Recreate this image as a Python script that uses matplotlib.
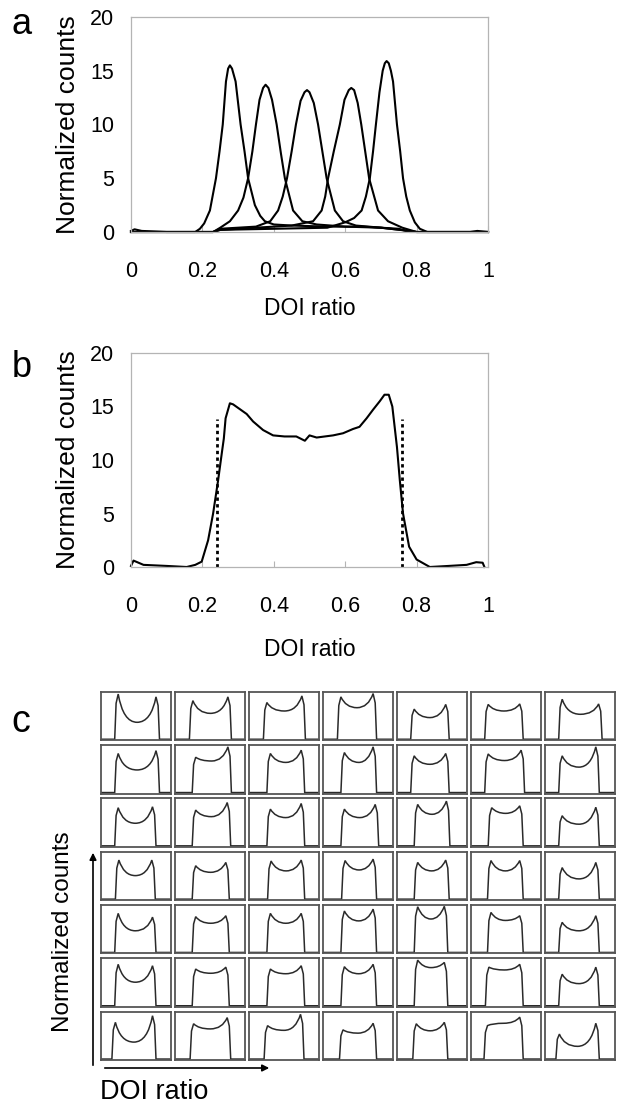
import matplotlib
matplotlib.use('Agg')
import matplotlib.pyplot as plt
from matplotlib.path import Path
from matplotlib.patches import PathPatch, FancyArrowPatch

plt.rcParams['font.family'] = ['Liberation Sans', 'DejaVu Sans']

# ---- panel a: five position spectra (DOI ratio vs normalized counts)
a1_x = [0, 0.01, 0.03, 0.1, 0.18, 0.193, 0.205, 0.221, 0.238, 0.248, 0.257, 0.266, 0.272, 0.277, 0.283,
        0.293, 0.307, 0.318, 0.328, 0.347, 0.362, 0.375, 0.40, 0.45, 0.55, 0.65, 0.75, 0.78, 1.0]
a1_y = [0.1, 0.25, 0.1, 0, 0, 0.3, 0.8, 2.0, 5.0, 7.5, 10.0, 14.0, 15.2, 15.5, 15.2,
        14.0, 10.0, 7.5, 5.0, 2.5, 1.5, 1.0, 0.7, 0.6, 0.5, 0.5, 0.3, 0, 0]
a2_x = [0, 0.23, 0.25, 0.277, 0.30, 0.315, 0.328, 0.34, 0.35, 0.36, 0.37, 0.377, 0.385, 0.395,
        0.408, 0.42, 0.431, 0.454, 0.48, 0.52, 0.6, 0.7, 0.78, 0.8, 1.0]
a2_y = [0, 0, 0.4, 1.0, 2.0, 3.2, 5.0, 7.5, 10.0, 12.3, 13.4, 13.7, 13.4, 12.3,
        10.0, 7.3, 5.0, 2.0, 1.0, 0.7, 0.5, 0.4, 0.1, 0, 0]
a3_x = [0, 0.23, 0.25, 0.35, 0.39, 0.412, 0.425, 0.437, 0.45, 0.462, 0.475, 0.486, 0.493, 0.50,
        0.512, 0.524, 0.536, 0.548, 0.571, 0.594, 0.63, 0.7, 0.78, 0.8, 1.0]
a3_y = [0, 0, 0.3, 0.5, 1.0, 2.0, 3.3, 5.0, 7.5, 10.0, 12.2, 13.0, 13.2, 13.0,
        12.0, 10.0, 7.5, 5.0, 2.0, 1.0, 0.6, 0.4, 0.1, 0, 0]
a4_x = [0, 0.23, 0.25, 0.45, 0.51, 0.534, 0.544, 0.552, 0.568, 0.585, 0.598, 0.61, 0.617, 0.625,
        0.635, 0.645, 0.656, 0.667, 0.692, 0.72, 0.76, 0.8, 1.0]
a4_y = [0, 0, 0.2, 0.6, 1.0, 2.0, 3.3, 5.0, 7.5, 10.0, 12.3, 13.2, 13.4, 13.2,
        12.0, 10.0, 7.5, 5.0, 2.0, 1.0, 0.4, 0, 0]
a5_x = [0, 0.23, 0.25, 0.55, 0.6, 0.625, 0.646, 0.658, 0.669, 0.678, 0.686, 0.696, 0.705, 0.711, 0.716,
        0.722, 0.728, 0.734, 0.745, 0.754, 0.762, 0.771, 0.781, 0.795, 0.809, 0.83, 0.95, 0.97, 0.985, 1.0]
a5_y = [0, 0, 0.2, 0.4, 0.9, 1.3, 2.0, 3.3, 5.0, 7.5, 10.0, 13.0, 15.0, 15.7, 15.9,
        15.7, 15.0, 14.0, 10.0, 7.5, 5.0, 3.3, 2.0, 0.9, 0.3, 0, 0, 0.1, 0.05, 0]

# ---- panel b: summed flood spectrum
b_x = [0, 0.007, 0.035, 0.1, 0.156, 0.18, 0.198, 0.216, 0.23, 0.244, 0.255, 0.26, 0.265, 0.277, 0.286,
       0.324, 0.342, 0.37, 0.398, 0.43, 0.463, 0.487, 0.50, 0.52, 0.566, 0.594, 0.622, 0.64, 0.66,
       0.678, 0.697, 0.71, 0.722, 0.732, 0.745, 0.753, 0.762, 0.779, 0.80, 0.837, 0.89, 0.94, 0.967,
       0.985, 0.99]
b_y = [0.1, 0.6, 0.2, 0.1, 0.0, 0.2, 0.5, 2.5, 5.0, 8.1, 10.8, 12.0, 13.9, 15.3, 15.2,
       14.3, 13.6, 12.8, 12.3, 12.2, 12.2, 11.8, 12.3, 12.1, 12.3, 12.5, 12.9, 13.1, 13.9,
       14.7, 15.5, 16.1, 16.1, 15.0, 11.2, 8.1, 5.0, 1.9, 0.7, 0.0, 0.1, 0.2, 0.45,
       0.4, 0.0]
b_cut = [0.242, 0.759]
b_cut_top = 13.8

# ---- panel c: 7x7 crystal spectra (fractions of each small box)
c_left = [[0.20, 0.21, 0.21, 0.21, 0.20, 0.20, 0.20],
          [0.20, 0.25, 0.26, 0.26, 0.20, 0.20, 0.20],
          [0.20, 0.25, 0.26, 0.26, 0.25, 0.25, 0.20],
          [0.21, 0.25, 0.27, 0.27, 0.25, 0.24, 0.20],
          [0.20, 0.25, 0.26, 0.26, 0.25, 0.24, 0.20],
          [0.20, 0.25, 0.26, 0.26, 0.25, 0.21, 0.20],
          [0.16, 0.22, 0.22, 0.24, 0.23, 0.19, 0.16]]
c_right = [[0.84, 0.81, 0.81, 0.77, 0.75, 0.75, 0.82],
           [0.84, 0.81, 0.80, 0.77, 0.75, 0.77, 0.78],
           [0.79, 0.80, 0.80, 0.80, 0.76, 0.75, 0.78],
           [0.78, 0.78, 0.80, 0.77, 0.75, 0.75, 0.78],
           [0.79, 0.78, 0.80, 0.77, 0.73, 0.75, 0.78],
           [0.79, 0.78, 0.80, 0.77, 0.73, 0.75, 0.78],
           [0.79, 0.80, 0.79, 0.77, 0.73, 0.75, 0.78]]
c_lpeak = [[0.98, 0.84, 0.80, 0.92, 0.66, 0.76, 0.87],
           [0.85, 0.77, 0.85, 0.87, 0.80, 0.84, 0.80],
           [0.83, 0.78, 0.80, 0.80, 0.90, 0.83, 0.66],
           [0.85, 0.73, 0.83, 0.84, 0.80, 0.84, 0.69],
           [0.85, 0.78, 0.85, 0.90, 0.99, 0.87, 0.66],
           [0.90, 0.80, 0.80, 0.85, 0.99, 0.84, 0.69],
           [0.80, 0.77, 0.73, 0.64, 0.77, 0.73, 0.55]]
c_valley = [[0.38, 0.57, 0.62, 0.69, 0.48, 0.62, 0.55],
            [0.50, 0.69, 0.66, 0.66, 0.62, 0.70, 0.56],
            [0.50, 0.64, 0.62, 0.62, 0.69, 0.71, 0.48],
            [0.52, 0.59, 0.62, 0.64, 0.62, 0.62, 0.45],
            [0.48, 0.64, 0.64, 0.69, 0.73, 0.70, 0.48],
            [0.52, 0.71, 0.70, 0.70, 0.83, 0.78, 0.49],
            [0.38, 0.66, 0.63, 0.57, 0.62, 0.78, 0.29]]
c_rpeak = [[0.92, 0.92, 0.94, 0.99, 0.76, 0.77, 0.77],
           [0.91, 0.99, 0.92, 0.99, 0.85, 0.92, 0.99],
           [0.85, 0.94, 0.92, 0.90, 0.97, 0.87, 0.84],
           [0.85, 0.80, 0.85, 0.87, 0.85, 0.84, 0.80],
           [0.77, 0.80, 0.85, 0.94, 1.00, 0.80, 0.80],
           [0.87, 0.84, 0.87, 0.90, 0.94, 0.90, 0.84],
           [0.94, 0.90, 0.97, 0.78, 0.80, 0.91, 0.78]]

W, H = 624, 1110
fig = plt.figure(figsize=(W / 100, H / 100), dpi=100)


def box(l, t, w, h):
    # pixel box -> figure fraction
    return [l / W, 1 - (t + h) / H, w / W, h / H]


def style_main(ax):
    ax.set_xlim(0, 1)
    ax.set_ylim(0, 20)
    ax.set_xticks([0, 0.2, 0.4, 0.6, 0.8, 1])
    ax.set_xticklabels(['0', '0.2', '0.4', '0.6', '0.8', '1'])
    ax.set_yticks([0, 5, 10, 15, 20])
    for s in ax.spines.values():
        s.set_color('#b4b4b4')
        s.set_linewidth(0.9)
    ax.tick_params(axis='x', direction='in', length=4, color='#b4b4b4', pad=21, labelsize=15.5)
    ax.tick_params(axis='y', length=0, pad=12, labelsize=15.5)


# panel a
ax_a = fig.add_axes(box(131, 17, 357, 215))
for xs, ys in [(a1_x, a1_y), (a2_x, a2_y), (a3_x, a3_y), (a4_x, a4_y), (a5_x, a5_y)]:
    ax_a.plot(xs, ys, color='black', lw=1.5, clip_on=False, solid_joinstyle='round')
style_main(ax_a)
fig.text(68 / W, 1 - 125 / H, 'Normalized counts', rotation=90, ha='center', va='center', fontsize=19)
fig.text(310 / W, 1 - 308 / H, 'DOI ratio', ha='center', va='center', fontsize=16.5)
fig.text(22 / W, 1 - 25 / H, 'a', ha='center', va='center', fontsize=26)

# panel b
ax_b = fig.add_axes(box(131, 353, 357, 214))
ax_b.plot(b_x, b_y, color='black', lw=1.5, clip_on=False, solid_joinstyle='round')
ax_b.vlines(b_cut, 0, b_cut_top, colors='black', linestyles=(0, (1.2, 1.2)), lw=2.0)
style_main(ax_b)
fig.text(68 / W, 1 - 460 / H, 'Normalized counts', rotation=90, ha='center', va='center', fontsize=19)
fig.text(310 / W, 1 - 650 / H, 'DOI ratio', ha='center', va='center', fontsize=16.5)
fig.text(22 / W, 1 - 368 / H, 'b', ha='center', va='center', fontsize=26)

# panel c: grid of small spectra
base = 0.02
for r in range(7):
    for c in range(7):
        ax = fig.add_axes(box(100.7 + c * 74, 691.7 + r * 53.3, 70, 48.5))
        l, rr = c_left[r][c], c_right[r][c]
        lp, v, rp = c_lpeak[r][c], c_valley[r][c], c_rpeak[r][c]
        mid = (l + rr) / 2
        verts = [(0, base), (l, base), (l + 0.02, lp * 0.8), (l + 0.05, lp),
                 (l + 0.12, v), (mid, v), (rr - 0.12, v), (rr - 0.05, rp),
                 (rr - 0.02, rp * 0.8), (rr, base), (1, base)]
        codes = [Path.MOVETO, Path.LINETO, Path.LINETO, Path.LINETO,
                 Path.CURVE3, Path.CURVE3, Path.CURVE3, Path.CURVE3,
                 Path.LINETO, Path.LINETO, Path.LINETO]
        ax.add_patch(PathPatch(Path(verts, codes), fill=False, edgecolor='#2a2a2a', lw=1.1))
        ax.set_xlim(0, 1)
        ax.set_ylim(0, 1.03)
        ax.set_xticks([])
        ax.set_yticks([])
        for s in ax.spines.values():
            s.set_color('#555555')
            s.set_linewidth(1.3)

fig.text(21 / W, 1 - 722 / H, 'c', ha='center', va='center', fontsize=27)
fig.text(63 / W, 1 - 932 / H, 'Normalized counts', rotation=90, ha='center', va='center', fontsize=17.5)
fig.text(100 / W, 1 - 1092 / H, 'DOI ratio', ha='left', va='center', fontsize=19.5)
fig.add_artist(FancyArrowPatch((93 / W, 1 - 1068 / H), (93 / W, 1 - 850 / H),
               transform=fig.transFigure, arrowstyle='-|>', mutation_scale=10, color='black', lw=1.2))
fig.add_artist(FancyArrowPatch((102 / W, 1 - 1068 / H), (272 / W, 1 - 1068 / H),
               transform=fig.transFigure, arrowstyle='-|>', mutation_scale=10, color='black', lw=1.2))

fig.savefig('out.png', dpi=100)
